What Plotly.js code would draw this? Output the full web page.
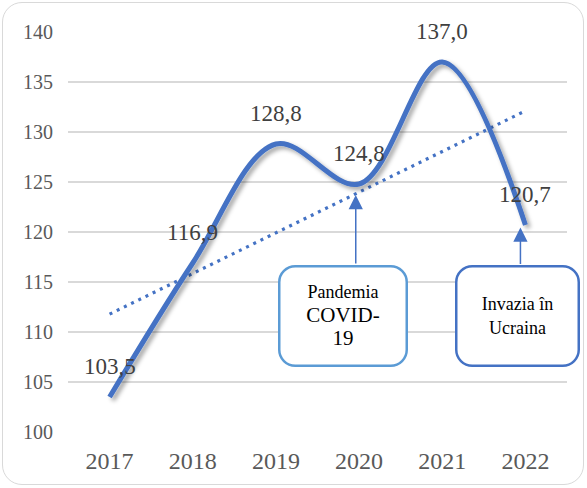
<!DOCTYPE html>
<html><head><meta charset="utf-8">
<script src="https://cdn.plot.ly/plotly-3.0.1.min.js"></script>
<style>
html,body{margin:0;padding:0;background:#fff;}
#wrap{position:relative;width:587px;height:488px;}
#frame{position:absolute;left:2px;top:2px;width:582px;height:483px;border:1.5px solid #d9d9d9;border-radius:20px;box-sizing:border-box;}
#chart{position:absolute;left:0;top:0;width:587px;height:488px;}
</style></head>
<body><div id="wrap"><div id="frame"></div><div id="chart"></div></div>
<script>
const years = ['2017','2018','2019','2020','2021','2022'];
const values = [103.5, 116.9, 128.8, 124.8, 137.0, 120.7];
const valueLabels = ['103,5','116,9','128,8','124,8','137,0','120,7'];
const yTicks = [100, 105, 110, 115, 120, 125, 130, 135, 140];
const calloutTexts = [
  'Pandemia<br><span style="font-size:21px">COVID-</span><br><span style="font-size:21px">19</span>',
  'Invazia în<br>Ucraina'
];

const FONT = '"Times New Roman", "Liberation Serif", serif';
const BLUE = '#4472C4';

// linear trendline (least squares), like the spreadsheet trendline
const idx = values.map((_, i) => i);
const mx = idx.reduce((a, b) => a + b, 0) / idx.length;
const my = values.reduce((a, b) => a + b, 0) / values.length;
let sxy = 0, sxx = 0;
idx.forEach((x, i) => { sxy += (x - mx) * (values[i] - my); sxx += (x - mx) * (x - mx); });
const slope = sxy / sxx;
const intercept = my - slope * mx;
const trend = idx.map(x => intercept + slope * x);

const traces = [
  {x: years, y: trend, type: 'scatter', mode: 'lines', hoverinfo: 'skip',
   line: {color: BLUE, width: 3.2, dash: '3px,5px'}},
  {x: years, y: values, type: 'scatter', mode: 'lines', hoverinfo: 'skip',
   line: {color: BLUE, width: 5, shape: 'spline', smoothing: 1}}
];

// data labels (category index used as position)
const annotations = values.map((v, i) => ({
  x: i, y: v, xref: 'x', yref: 'y', text: valueLabels[i], showarrow: false,
  yshift: 31, font: {family: FONT, size: 23, color: '#404040'}
}));

// arrows of the callouts
annotations.push({x: 2.96, y: 123.7, xref: 'x', yref: 'y', text: '', showarrow: true,
  ax: 0, ay: 70, arrowhead: 2, arrowsize: 1.9, arrowwidth: 1.5, arrowcolor: BLUE});
annotations.push({x: 4.94, y: 120.45, xref: 'x', yref: 'y', text: '', showarrow: true,
  ax: 0, ay: 38, arrowhead: 2, arrowsize: 1.9, arrowwidth: 1.5, arrowcolor: BLUE});
// callout boxes
annotations.push({x: 2.807, y: 111.57, xref: 'x', yref: 'y', text: calloutTexts[0], showarrow: false,
  width: 125, height: 97, borderpad: 0, borderwidth: 2.5, bordercolor: '#5B9BD5', bgcolor: '#ffffff',
  font: {family: FONT, size: 18, color: '#000000'}, align: 'center', valign: 'middle'});
annotations.push({x: 4.91, y: 111.57, xref: 'x', yref: 'y', text: calloutTexts[1], showarrow: false,
  width: 120, height: 97, borderpad: 0, borderwidth: 2.5, bordercolor: BLUE, bgcolor: '#ffffff',
  font: {family: FONT, size: 18, color: '#000000'}, align: 'center', valign: 'middle'});

const layout = {
  width: 587, height: 488,
  margin: {l: 68, r: 20, t: 32, b: 56},
  paper_bgcolor: 'rgba(0,0,0,0)', plot_bgcolor: 'rgba(0,0,0,0)',
  showlegend: false,
  font: {family: FONT, color: '#595959', size: 20},
  xaxis: {type: 'category', range: [-0.5, 5.5], showgrid: false, zeroline: false,
    showline: false, ticks: '', ticklabelstandoff: 12, fixedrange: true,
    tickfont: {family: FONT, size: 24, color: '#595959'}},
  yaxis: {range: [100, 140], tickvals: yTicks, ticktext: yTicks.map(String),
    showgrid: true, gridcolor: '#D9D9D9', gridwidth: 1.2, zeroline: false, showline: false,
    ticks: '', ticklabelstandoff: 14, fixedrange: true,
    tickfont: {family: FONT, size: 20, color: '#595959'}},
  annotations: annotations
};

Plotly.newPlot('chart', traces, layout, {displayModeBar: false, staticPlot: true}).then(gd => {
  const svg = gd.querySelector('svg.main-svg');
  const ns = 'http://www.w3.org/2000/svg';
  let defs = svg.querySelector('defs');
  if (!defs) { defs = document.createElementNS(ns, 'defs'); svg.insertBefore(defs, svg.firstChild); }
  const f = document.createElementNS(ns, 'filter');
  f.setAttribute('id', 'lineShadow');
  f.setAttribute('x', '-20%'); f.setAttribute('y', '-20%');
  f.setAttribute('width', '140%'); f.setAttribute('height', '140%');
  const ds = document.createElementNS(ns, 'feDropShadow');
  ds.setAttribute('dx', '3'); ds.setAttribute('dy', '3'); ds.setAttribute('stdDeviation', '2.2');
  ds.setAttribute('flood-color', '#000'); ds.setAttribute('flood-opacity', '0.35');
  f.appendChild(ds); defs.appendChild(f);
  const tr = gd.querySelectorAll('.scatterlayer .trace');
  const mainLine = tr[1] && tr[1].querySelector('path.js-line');
  if (mainLine) mainLine.setAttribute('filter', 'url(#lineShadow)');
  gd.querySelectorAll('.annotation rect.bg').forEach(r => {
    if (parseFloat(r.getAttribute('width')) > 60) { r.setAttribute('rx', '16'); r.setAttribute('ry', '16'); }
  });
});
</script>
</body></html>
